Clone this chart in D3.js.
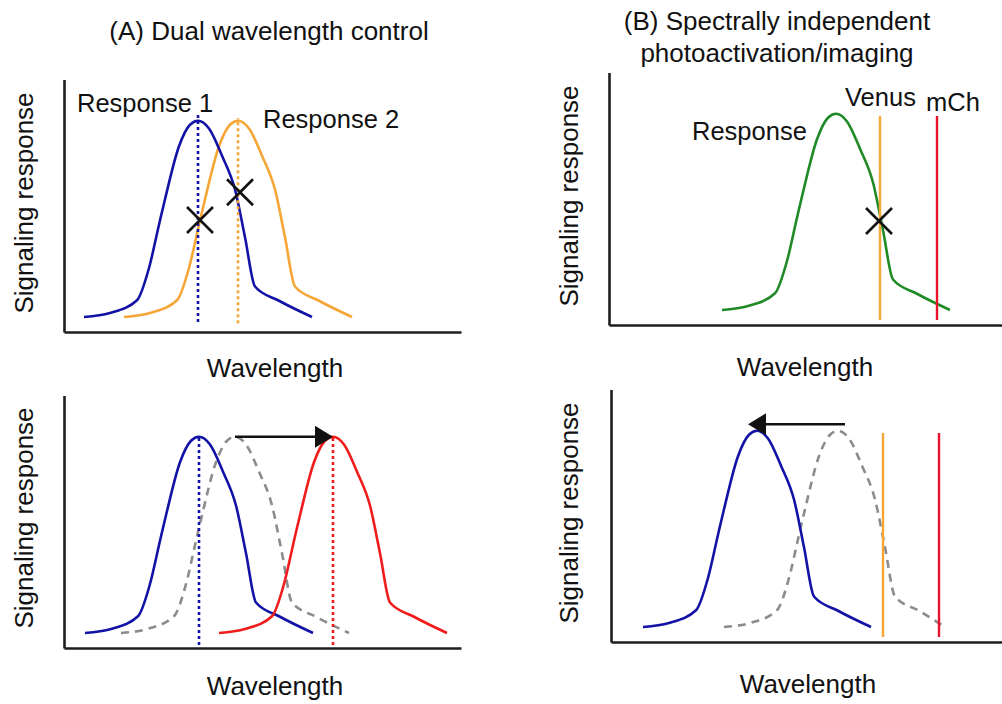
<!DOCTYPE html>
<html><head><meta charset="utf-8">
<script src="https://cdn.jsdelivr.net/npm/d3@7"></script>
<style>
body{margin:0;background:#fff}
text{font-family:"Liberation Sans", Arial, sans-serif; fill:#111}
</style>
</head><body>
<svg id="c" width="1002" height="704"></svg>
<script>
// ---- data (wavelength in arbitrary units, response in arbitrary units) ----
const responseLevels = [6, 7.6, 12.7, 25.6, 42.9, 53.1, 74.3, 82.9, 84.5, 81.4, 70.5, 57, 37.9, 18.2, 12.5, 6];
const wlBlueA1   = [20, 46, 73, 85, 95, 101, 115, 126, 134, 145, 158, 171, 181, 191, 215, 248];
const wlOrangeA1 = [60, 86, 113, 125, 135, 141, 155, 166, 174, 185, 198, 211, 221, 231, 255, 288];
const wlBlueA2   = [21, 47, 74, 86, 96, 102, 116, 127, 135, 146, 159, 172, 182, 192, 216, 249];
const wlGrayA2   = [57, 83, 110, 122, 132, 138, 152, 163, 171, 182, 195, 208, 218, 228, 252, 285];
const wlRedA2    = [155, 181, 208, 220, 230, 236, 250, 261, 269, 280, 293, 306, 316, 326, 350, 383];
const wlGreenB1  = [113, 139, 166, 178, 188, 194, 208, 219, 227, 238, 251, 264, 274, 284, 308, 341];
const wlBlueB2   = [32, 58, 85, 97, 107, 113, 127, 138, 146, 157, 170, 183, 193, 203, 227, 260];
const wlGrayB2   = [113, 139, 166, 178, 188, 194, 208, 219, 227, 238, 251, 264, 274, 284, 308, 334];

// vertical wavelength markers
const markerPanels = ["A1", "A1", "A2", "A2", "B1", "B1", "B2", "B2"];
const markerWl     = [134, 174, 135, 269, 271, 328, 272, 328];
const markerFrom   = [4, 3.5, 1.2, 1.2, 2, 2, 2, 2];
const markerTo     = [86.8, 85.5, 84.5, 84.5, 83.6, 83.6, 83.6, 83.6];

// crossing points (X marks)
const crossPanels = ["A1", "A1", "B1"];
const crossWl     = [136, 176, 270];
const crossResp   = [44.8, 55.9, 41.6];

// shift arrows
const arrowPanels = ["A2", "B2"];
const arrowFromWl = [171, 234];
const arrowToWl   = [269, 137];
const arrowResp   = [84.5, 87.1];

const titles = ["(A) Dual wavelength control", "(B) Spectrally independent", "photoactivation/imaging"];
const yLabel = "Signaling response";
const xLabel = "Wavelength";

// ---- layout ----
const panels = {
  A1: {ox: 64,  axisY: 332, xEnd: 461},
  A2: {ox: 64,  axisY: 648, xEnd: 461},
  B1: {ox: 609, axisY: 325, xEnd: 1002},
  B2: {ox: 611, axisY: 642, xEnd: 1002}
};
const C = {blue: "#1212a6", orange: "#f5a636", red: "#f01c1c", green: "#1f8a26", gray: "#8c8c8c", vred: "#e8142c"};

const svg = d3.select("#c");
svg.append("rect").attr("width", 1002).attr("height", 704).attr("fill", "#fff");

const sc = {};
for (const k in panels) {
  const p = panels[k];
  const x = d3.scaleLinear().domain([0, p.xEnd - p.ox]).range([p.ox, p.xEnd]);
  const y = d3.scaleLinear().domain([0, 101]).range([p.axisY, p.axisY - 252.5]);
  sc[k] = {x, y};
  const gx = svg.append("g").attr("transform", `translate(0,${p.axisY})`)
    .call(d3.axisBottom(x).ticks(0).tickSize(0).tickSizeOuter(0));
  const gy = svg.append("g").attr("transform", `translate(${p.ox},0)`)
    .call(d3.axisLeft(y).ticks(0).tickSize(0).tickSizeOuter(0));
  [gx, gy].forEach(g => {
    g.selectAll("text").remove();
    g.select(".domain").attr("stroke", "#1e1e1e").attr("stroke-width", 2.6);
  });
}

const line = (k) => d3.line().x(d => sc[k].x(d[0])).y(d => sc[k].y(d[1])).curve(d3.curveMonotoneX);
const curves = [
  {p: "A1", wl: wlOrangeA1, c: C.orange},
  {p: "A1", wl: wlBlueA1, c: C.blue},
  {p: "A2", wl: wlGrayA2, c: C.gray, dash: "8,6"},
  {p: "A2", wl: wlBlueA2, c: C.blue},
  {p: "A2", wl: wlRedA2, c: C.red},
  {p: "B1", wl: wlGreenB1, c: C.green},
  {p: "B2", wl: wlGrayB2, c: C.gray, dash: "8,6"},
  {p: "B2", wl: wlBlueB2, c: C.blue}
];
curves.forEach(cv => {
  const pts = cv.wl.map((w, i) => [w, responseLevels[i]]);
  svg.append("path").attr("d", line(cv.p)(pts)).attr("fill", "none")
    .attr("stroke", cv.c).attr("stroke-width", 2.6)
    .attr("stroke-dasharray", cv.dash || null).attr("stroke-linejoin", "round");
});

// vertical markers
const markerColors = [C.blue, C.orange, C.blue, C.red, C.orange, C.vred, C.orange, C.vred];
markerWl.forEach((w, i) => {
  const k = markerPanels[i], s = sc[k];
  const dotted = k.startsWith("A");
  svg.append("line").attr("x1", s.x(w)).attr("x2", s.x(w))
    .attr("y1", s.y(markerFrom[i])).attr("y2", s.y(markerTo[i]))
    .attr("stroke", markerColors[i]).attr("stroke-width", dotted ? 2.6 : 2.4)
    .attr("stroke-dasharray", dotted ? "3,3" : null);
});

// X marks
crossWl.forEach((w, i) => {
  const s = sc[crossPanels[i]], cx = s.x(w), cy = s.y(crossResp[i]), r = 13;
  svg.append("path").attr("d", `M${cx-r},${cy-r}L${cx+r},${cy+r}M${cx-r},${cy+r}L${cx+r},${cy-r}`)
    .attr("stroke", "#111").attr("stroke-width", 2.6).attr("fill", "none");
});

// arrows
arrowFromWl.forEach((w, i) => {
  const s = sc[arrowPanels[i]];
  const x0 = s.x(w), x1 = s.x(arrowToWl[i]), yy = s.y(arrowResp[i]);
  const dir = Math.sign(x1 - x0), hl = 18, hw = 11;
  svg.append("line").attr("x1", x0).attr("x2", x1 - dir * hl).attr("y1", yy).attr("y2", yy)
    .attr("stroke", "#111").attr("stroke-width", 2.6);
  svg.append("path").attr("d", `M${x1},${yy}L${x1 - dir*hl},${yy - hw}L${x1 - dir*hl},${yy + hw}Z`)
    .attr("fill", "#111");
});

// titles
const fs = 26;
svg.append("text").attr("x", 269).attr("y", 40).attr("text-anchor", "middle").attr("font-size", fs).text(titles[0]);
svg.append("text").attr("x", 777).attr("y", 30).attr("text-anchor", "middle").attr("font-size", fs).text(titles[1]);
svg.append("text").attr("x", 777).attr("y", 62).attr("text-anchor", "middle").attr("font-size", fs).text(titles[2]);

// axis labels
const yLab = [[33, 203], [33, 518], [578, 196], [578, 513]];
yLab.forEach(([x, y]) => {
  svg.append("text").attr("transform", `translate(${x},${y}) rotate(-90)`)
    .attr("text-anchor", "middle").attr("font-size", fs).text(yLabel);
});
const xLab = [[275, 377], [275, 695], [805, 376], [808, 693]];
xLab.forEach(([x, y]) => {
  svg.append("text").attr("x", x).attr("y", y).attr("text-anchor", "middle").attr("font-size", fs).text(xLabel);
});

// series labels
const lab = (t, x, y) => svg.append("text").attr("x", x).attr("y", y).attr("font-size", 25.5).text(t);
lab("Response 1", 77, 112);
lab("Response 2", 263, 128);
lab("Response", 692, 140);
lab("Venus", 845, 106);
lab("mCh", 926, 111);
</script>
</body></html>
